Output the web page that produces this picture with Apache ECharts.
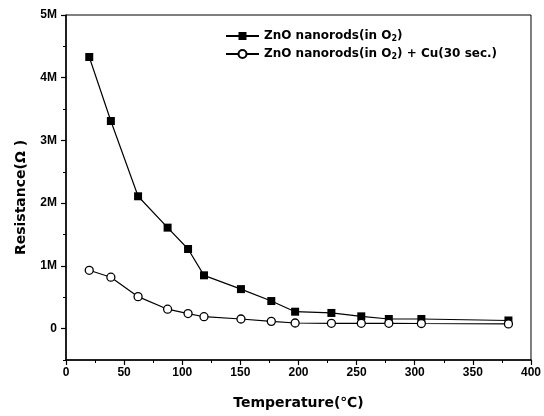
<!DOCTYPE html>
<html>
<head>
<meta charset="utf-8">
<script src="https://cdn.jsdelivr.net/npm/echarts@6/dist/echarts.min.js"></script>
<style>
  html, body { margin: 0; padding: 0; background: #fff; }
  #chart { width: 544px; height: 416px; }
</style>
</head>
<body>
<div id="chart"></div>
<script>
// Temperature (°C) of each measurement
const temperatures = [20, 38.6, 62, 87.4, 105, 118.7, 150.5, 176.6, 197.1, 228.3, 254, 277.7, 305.7, 380.6];
// Resistance (Ω) of bare ZnO nanorods annealed in O2
const resistanceZnO = [4330000, 3310000, 2110000, 1610000, 1270000, 850000, 630000, 440000, 270000, 250000, 196000, 154000, 154000, 130000];
// Resistance (Ω) of ZnO nanorods in O2 with 30 s Cu deposition
const resistanceZnOCu = [930000, 820000, 510000, 310000, 240000, 190000, 154000, 116000, 90000, 85000, 85000, 85000, 82000, 75000];
// Labelled y-axis values and the half-step minor ticks between them
const yMajorTicks = [0, 1000000, 2000000, 3000000, 4000000, 5000000];
const yMinorTicks = [-500000, 500000, 1500000, 2500000, 3500000, 4500000];
const seriesNames = ['ZnO nanorods(in O{sub|2})', 'ZnO nanorods(in O{sub|2}) + Cu(30 sec.)'];

const font = 'Arial, "Liberation Sans", sans-serif';
const wideFont = '"DejaVu Sans", Arial, sans-serif';
const pairs = (xs, ys) => xs.map((x, i) => [x, ys[i]]);

const chart = echarts.init(document.getElementById('chart'), null, { renderer: 'canvas' });

const yRange = { min: -500000, max: 5000000 };

chart.setOption({
  backgroundColor: '#fff',
  animation: false,
  grid: {
    left: 66, right: 11, top: 15, bottom: 56,
    show: true, borderColor: '#000', borderWidth: 1, backgroundColor: 'transparent'
  },
  legend: {
    orient: 'vertical',
    left: 220, top: 25,
    itemWidth: 33, itemHeight: 10, itemGap: 5,
    data: seriesNames,
    textStyle: {
      fontFamily: wideFont, fontWeight: 'bold', fontSize: 12, color: '#000',
      rich: { sub: { fontSize: 8, fontWeight: 'bold', fontFamily: wideFont, verticalAlign: 'bottom', padding: [6, 0, 0, 0] } }
    }
  },
  xAxis: {
    type: 'value', min: 0, max: 400, interval: 50,
    name: 'Temperature(\u2103)', nameLocation: 'middle', nameGap: 36,
    nameTextStyle: { fontFamily: wideFont, fontWeight: 'bold', fontSize: 14, color: '#000' },
    axisLine: { show: true, onZero: false, lineStyle: { color: '#000', width: 1.5 } },
    axisTick: { show: true, inside: false, length: 5, lineStyle: { color: '#000', width: 1.2 } },
    minorTick: { show: true, splitNumber: 2, length: 3, lineStyle: { color: '#000', width: 1 } },
    axisLabel: { fontFamily: font, fontWeight: 'bold', fontSize: 12, color: '#000', margin: 7 },
    splitLine: { show: false }
  },
  yAxis: [
    Object.assign({
      type: 'value',
      name: 'Resistance(\u03A9 )', nameLocation: 'middle', nameGap: 38,
      nameTextStyle: { fontFamily: wideFont, fontWeight: 'bold', fontSize: 14, color: '#000', padding: [0, 20, 0, 0] },
      axisLine: { show: true, onZero: false, lineStyle: { color: '#000', width: 1.5 } },
      axisTick: { show: true, length: 5, customValues: yMajorTicks, lineStyle: { color: '#000', width: 1.2 } },
      axisLabel: {
        fontFamily: font, fontWeight: 'bold', fontSize: 12, color: '#000', margin: 9,
        customValues: yMajorTicks,
        formatter: v => v === 0 ? '0' : (v / 1000000) + 'M'
      },
      splitLine: { show: false }
    }, yRange),
    Object.assign({
      type: 'value', position: 'left',
      axisLine: { show: false },
      axisTick: { show: true, length: 3, customValues: yMinorTicks, lineStyle: { color: '#000', width: 1 } },
      axisLabel: { show: false },
      splitLine: { show: false }
    }, yRange)
  ],
  series: [
    {
      name: seriesNames[0], type: 'line', yAxisIndex: 0,
      data: pairs(temperatures, resistanceZnO),
      symbol: 'rect', symbolSize: 8,
      lineStyle: { color: '#000', width: 1.2 },
      itemStyle: { color: '#000', borderColor: '#000', borderWidth: 0 },
      z: 3
    },
    {
      name: seriesNames[1], type: 'line', yAxisIndex: 0,
      data: pairs(temperatures, resistanceZnOCu),
      symbol: 'circle', symbolSize: 8, showAllSymbol: true,
      lineStyle: { color: '#000', width: 1.2 },
      itemStyle: { color: '#fff', borderColor: '#000', borderWidth: 1.3 },
      z: 4
    }
  ]
});
</script>
</body>
</html>
